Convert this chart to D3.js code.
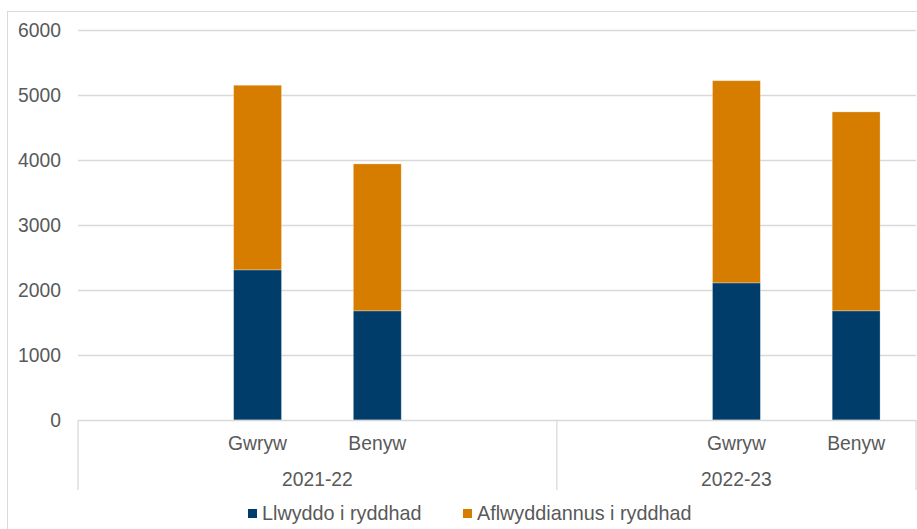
<!DOCTYPE html>
<html>
<head>
<meta charset="utf-8">
<script src="https://cdn.jsdelivr.net/npm/d3@7"></script>
<style>
  html, body { margin: 0; padding: 0; background: #fff; }
  svg { display: block; font-family: "Liberation Sans", Arial, sans-serif; }
</style>
</head>
<body>
<svg id="chart" width="917" height="529"></svg>
<script>
// Category slots (blank slots are spacers, as in the original)
const slotKeys   = ["s0", "g21", "b21", "s3", "s4", "g22", "b22"];
const slotLabels = ["", "Gwryw", "Benyw", "", "", "Gwryw", "Benyw"];
const years      = ["2021-22", "2022-23"];
const yearSlots  = [["s0", "s3"], ["s4", "b22"]];
const barKeys    = ["g21", "b21", "g22", "b22"];
const series     = ["Llwyddo i ryddhad", "Aflwyddiannus i ryddhad"];
const successful   = [2310, 1680, 2110, 1680];
const unsuccessful = [2840, 2260, 3110, 3060];
const yTicks = [0, 1000, 2000, 3000, 4000, 5000, 6000];
const colors = ["#003D6A", "#D67D00"];

const svg = d3.select("#chart");
const textColor = "#595959";
const gridColor = "#D9D9D9";
const fontSize = 19.3;

const plot = { left: 78, right: 916, top: 30, bottom: 420 };

const x = d3.scaleBand().domain(slotKeys).range([plot.left, plot.right]).padding(0);
const y = d3.scaleLinear().domain([0, 6000]).range([plot.bottom, plot.top]);

// outer chart border
svg.append("rect")
  .attr("x", 7.5).attr("y", 11.5)
  .attr("width", 920).attr("height", 530)
  .attr("fill", "none").attr("stroke", gridColor).attr("stroke-width", 1);

// gridlines
svg.append("g").selectAll("line").data(yTicks.filter(d => d > 0)).join("line")
  .attr("x1", plot.left).attr("x2", plot.right)
  .attr("y1", d => Math.round(y(d)) + 0.5).attr("y2", d => Math.round(y(d)) + 0.5)
  .attr("stroke", gridColor).attr("stroke-width", 1.3);

// y tick labels
svg.append("g").selectAll("text").data(yTicks).join("text")
  .attr("x", 61).attr("y", d => y(d)).attr("dy", "0.35em")
  .attr("text-anchor", "end")
  .attr("font-size", fontSize).attr("fill", textColor)
  .text(d => d);

// stacked bars
const stackData = barKeys.map((k, i) => ({ key: k, s: successful[i], u: unsuccessful[i] }));
const stack = d3.stack().keys(["s", "u"])(stackData);
const barW = x.bandwidth() * 0.4;
svg.append("g").selectAll("g").data(stack).join("g")
  .attr("fill", (d, i) => colors[i])
  .selectAll("rect").data(d => d).join("rect")
  .attr("x", d => x(d.data.key) + (x.bandwidth() - barW) / 2)
  .attr("width", barW)
  .attr("y", d => y(d[1]))
  .attr("height", d => y(d[0]) - y(d[1]))
  .attr("stroke", "rgba(255,255,255,0.35)").attr("stroke-width", 0.8);

// x axis line
svg.append("line")
  .attr("x1", plot.left).attr("x2", plot.right)
  .attr("y1", plot.bottom + 0.5).attr("y2", plot.bottom + 0.5)
  .attr("stroke", gridColor).attr("stroke-width", 1.3);

// group separators
const sepX = [x("s0"), x("s4"), x("b22") + x.bandwidth()];
svg.append("g").selectAll("line").data(sepX).join("line")
  .attr("x1", d => d).attr("x2", d => d)
  .attr("y1", plot.bottom).attr("y2", 490)
  .attr("stroke", gridColor).attr("stroke-width", 1.3);

// category labels
svg.append("g").selectAll("text").data(slotKeys.map((k, i) => ({ k, l: slotLabels[i] })).filter(d => d.l)).join("text")
  .attr("x", d => x(d.k) + x.bandwidth() / 2)
  .attr("y", 450)
  .attr("text-anchor", "middle")
  .attr("font-size", fontSize).attr("fill", textColor)
  .text(d => d.l);

// year labels
svg.append("g").selectAll("text").data(years).join("text")
  .attr("x", (d, i) => (x(yearSlots[i][0]) + x(yearSlots[i][1]) + x.bandwidth()) / 2)
  .attr("y", 486)
  .attr("text-anchor", "middle")
  .attr("font-size", fontSize).attr("fill", textColor)
  .text(d => d);

// legend
const legendX = [248, 463];
const lg = svg.append("g").selectAll("g").data(series).join("g")
  .attr("transform", (d, i) => `translate(${legendX[i]},0)`);
lg.append("rect").attr("x", 0).attr("y", 509).attr("width", 9).attr("height", 9)
  .attr("fill", (d, i) => colors[i]);
lg.append("text").attr("x", 14).attr("y", 519.5)
  .attr("font-size", 19.8).attr("fill", textColor)
  .text(d => d);
</script>
</body>
</html>
